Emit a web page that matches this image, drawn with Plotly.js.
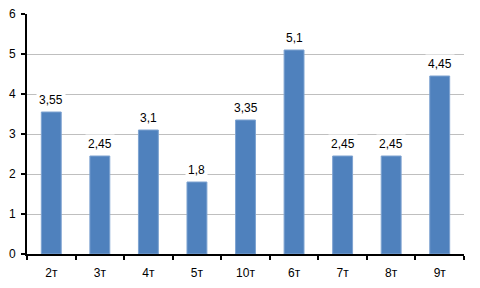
<!DOCTYPE html>
<html><head><meta charset="utf-8">
<script src="https://cdn.plot.ly/plotly-3.0.1.min.js"></script>
<style>body{margin:0;padding:0;background:#fff}#c{width:480px;height:288px}</style>
</head><body><div id="c"></div>
<script>
const categories = ["2т","3т","4т","5т","10т","6т","7т","8т","9т"];
const values = [3.55, 2.45, 3.1, 1.8, 3.35, 5.1, 2.45, 2.45, 4.45];
const yTicks = [0,1,2,3,4,5,6];

const fnt = "Liberation Sans, Arial, sans-serif";
const annotations = categories.map((c,i)=>({
  x: c, y: values[i], xref:'x', yref:'y', yshift: 12,
  text: String(values[i]).replace('.', ','),
  showarrow: false, bgcolor: '#ffffff', borderpad: 2,
  font: {family: fnt, size: 12, color: '#000'}
}));

Plotly.newPlot('c', [{
  type: 'bar', x: categories, y: values,
  marker: {color: '#4F81BD', line: {color: '#7EA3D1', width: 1}},
  width: 0.41, hoverinfo: 'none'
}], {
  width: 480, height: 288,
  margin: {l: 27, r: 16, t: 14, b: 34},
  paper_bgcolor: '#fff', plot_bgcolor: '#fff',
  showlegend: false, bargap: 0.59,
  font: {family: fnt, size: 12, color: '#000'},
  xaxis: {
    type: 'category', showgrid: false, showline: true, linecolor: '#000', linewidth: 2,
    ticks: 'outside', tickson: 'boundaries', ticklen: 4, tickwidth: 2, tickcolor: '#000',
    ticklabelstandoff: 7,
    tickfont: {family: fnt, size: 12}, fixedrange: true
  },
  yaxis: {
    range: [0, 6], tickvals: yTicks, ticktext: yTicks.map(String),
    showgrid: true, gridcolor: '#BFBFBF', gridwidth: 1,
    showline: true, linecolor: '#000', linewidth: 2, zeroline: false,
    ticks: 'outside', ticklen: 4, tickwidth: 2, tickcolor: '#000',
    ticklabelstandoff: 3,
    tickfont: {family: fnt, size: 12}, fixedrange: true
  },
  annotations: annotations
}, {staticPlot: true, displayModeBar: false});
</script></body></html>
